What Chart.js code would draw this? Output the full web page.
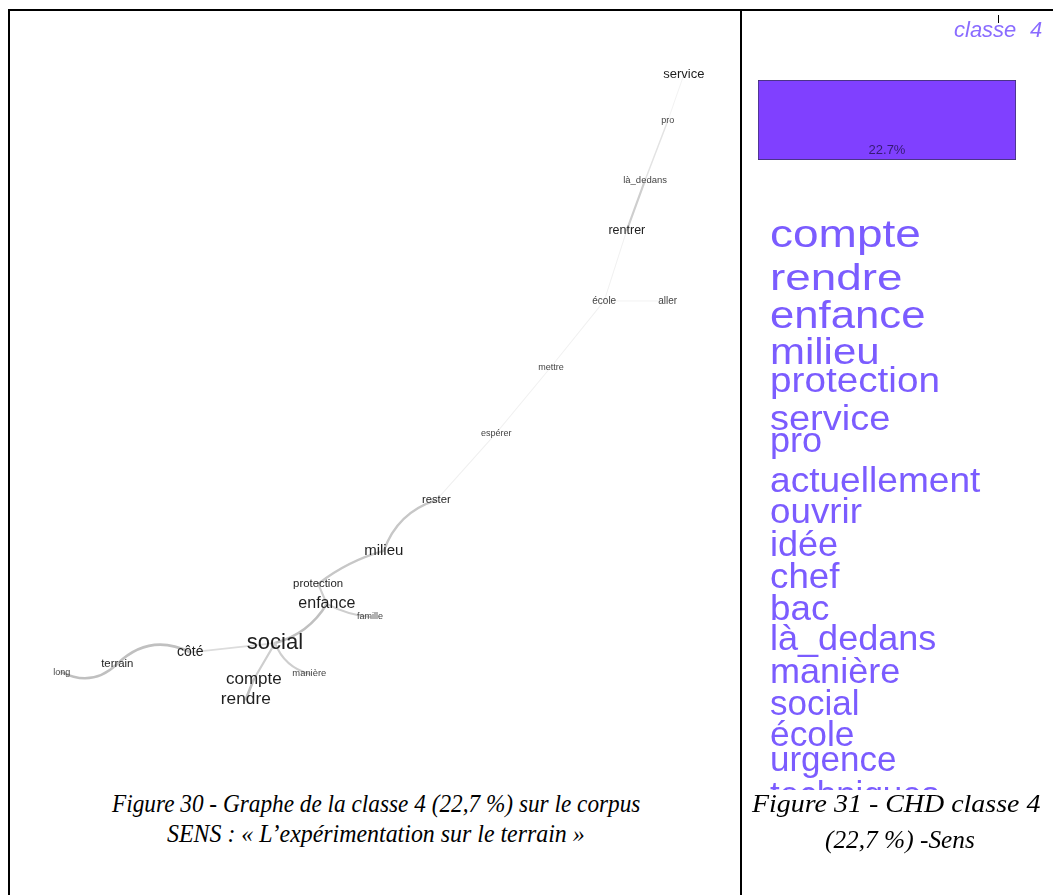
<!DOCTYPE html>
<html><head><meta charset="utf-8">
<script src="https://cdn.jsdelivr.net/npm/chart.js@4"></script>
<style>
html,body{margin:0;padding:0;background:#fff;}
body{width:1053px;height:895px;overflow:hidden;position:relative;}
.ln{position:absolute;background:#000;}
#g{position:absolute;left:10px;top:11px;}
#c{position:absolute;left:742px;top:11px;}
.cap{position:absolute;font-family:"Liberation Serif","Times New Roman",serif;font-style:italic;font-size:26px;white-space:nowrap;line-height:1;color:#000;transform-origin:0 0;}
</style></head>
<body>
<div class="ln" style="left:8px;top:9px;width:1045px;height:2px"></div>
<div class="ln" style="left:8px;top:9px;width:2px;height:886px"></div>
<div class="ln" style="left:740px;top:9px;width:2px;height:886px"></div>
<canvas id="g" width="730" height="769"></canvas>
<canvas id="c" width="311" height="779"></canvas>
<span class="cap" data-cx="376" data-w="528" data-b="813">Figure 30 - Graphe de la classe 4 (22,7 %) sur le corpus</span>
<span class="cap" data-cx="376" data-w="418" data-b="843">SENS : « L’expérimentation sur le terrain »</span>
<span class="cap" data-cx="896" data-w="288" data-b="813">Figure 31 - CHD classe 4</span>
<span class="cap" data-cx="900" data-w="150" data-b="849">(22,7 %) -Sens</span>
<script>
// ---- Graph of class 4 (similarity tree) ----
const nodeWords = ['service','pro','là_dedans','rentrer','école','aller','mettre','espérer','rester','milieu','protection','enfance','famille','social','côté','terrain','long','compte','manière','rendre'];
const nodeX = [92.3, 90.1, 87.0, 84.5, 81.4, 90.1, 74.1, 66.6, 58.4, 51.2, 42.2, 43.4, 49.3, 36.3, 24.7, 14.7, 7.1, 33.4, 41.0, 32.3];
const nodeY = [91.7, 85.7, 78.0, 71.5, 62.3, 62.3, 53.7, 45.1, 36.4, 29.8, 25.5, 22.9, 21.2, 17.8, 16.6, 15.1, 14.0, 13.1, 13.8, 10.5];
const nodeFreq = [13, 9, 9.5, 12.5, 10, 10, 9, 9, 11.3, 15, 11.4, 16, 9, 22, 14, 11.4, 9, 17, 9.4, 17.3];
const edgeFrom = ['long','terrain','côté','social','enfance','protection','milieu','rester','espérer','mettre','école','école','rentrer','là_dedans','pro','enfance','social','compte','social'];
const edgeTo   = ['terrain','côté','social','enfance','protection','milieu','rester','espérer','mettre','école','rentrer','aller','là_dedans','pro','service','famille','compte','rendre','manière'];
const edgeWeight = [4, 4, 2, 4, 3, 3.5, 3.5, 0.6, 0.5, 0.5, 0.5, 0.4, 3, 1.5, 0.4, 3, 3, 4, 3];
const edgeBend = [0.35, -0.35, 0, 0.2, 0, -0.1, -0.25, 0, 0, 0, 0, 0, 0, 0, 0, 0.1, 0, 0, 0.25];

// ---- CHD class 4 ----
const classLabel = 'classe 4';
const classPercent = [22.7];
const classWords = ['compte','rendre','enfance','milieu','protection','service','pro','actuellement','ouvrir','idée','chef','bac','là_dedans','manière','social','école','urgence','techniques'];
const classWordSize = [39, 37, 38, 36.5, 35.5, 35.5, 35, 35, 35, 35, 35, 35, 35, 35, 35, 35, 35, 35];
const classWordStretch = [1.18, 1.24, 1.15, 1.15, 1.09, 1.07, 1.03, 1.06, 1.05, 1.03, 1.05, 1.05, 1.03, 1.03, 1.0, 1.01, 1.0, 1.0];
const classWordBase = [247, 290, 328, 364, 392, 430, 452, 492, 523, 556, 588, 620, 650, 683, 715, 746, 771, 806];

const SANS = '"Liberation Sans", Arial, Helvetica, sans-serif';

const graphPlugin = {
  id: 'graph',
  beforeDatasetsDraw(chart) {
    const ctx = chart.ctx, xs = chart.scales.x, ys = chart.scales.y;
    ctx.save();
    ctx.lineCap = 'round';
    for (let i = 0; i < edgeFrom.length; i++) {
      const a = nodeWords.indexOf(edgeFrom[i]), b = nodeWords.indexOf(edgeTo[i]);
      const x1 = xs.getPixelForValue(nodeX[a]), y1 = ys.getPixelForValue(nodeY[a]);
      const x2 = xs.getPixelForValue(nodeX[b]), y2 = ys.getPixelForValue(nodeY[b]);
      const dx = x2 - x1, dy = y2 - y1;
      const cx = (x1 + x2) / 2 - dy * edgeBend[i], cy = (y1 + y2) / 2 + dx * edgeBend[i];
      const w = edgeWeight[i];
      const g = Math.round(248 - w * 14);
      ctx.strokeStyle = `rgb(${g},${g},${g})`;
      ctx.lineWidth = 0.8 + w * 0.45;
      ctx.beginPath();
      ctx.moveTo(x1, y1);
      ctx.quadraticCurveTo(cx, cy, x2, y2);
      ctx.stroke();
    }
    ctx.restore();
  },
  afterDatasetsDraw(chart) {
    const ctx = chart.ctx, xs = chart.scales.x, ys = chart.scales.y;
    ctx.save();
    ctx.textAlign = 'center';
    ctx.textBaseline = 'middle';
    for (let i = 0; i < nodeWords.length; i++) {
      const s = nodeFreq[i];
      ctx.font = s + 'px ' + SANS;
      ctx.fillStyle = s < 10.5 ? '#444' : '#1e1e1e';
      ctx.fillText(nodeWords[i], xs.getPixelForValue(nodeX[i]), ys.getPixelForValue(nodeY[i]));
    }
    ctx.restore();
  }
};

new Chart(document.getElementById('g'), {
  type: 'scatter',
  data: { datasets: [{ data: nodeWords.map((w, i) => ({ x: nodeX[i], y: nodeY[i] })), pointRadius: 0 }] },
  options: {
    responsive: false, animation: false,
    layout: { padding: 0 },
    plugins: { legend: { display: false }, tooltip: { enabled: false } },
    scales: { x: { type: 'linear', min: 0, max: 100, display: false }, y: { type: 'linear', min: 0, max: 100, display: false } }
  },
  plugins: [graphPlugin]
});

const chdPlugin = {
  id: 'chd',
  afterDraw(chart) {
    const ctx = chart.ctx;
    ctx.save();
    // class title
    ctx.font = 'italic 22px ' + SANS;
    ctx.fillStyle = '#8a6cff';
    ctx.textBaseline = 'alphabetic';
    ctx.textAlign = 'left';
    ctx.fillText('classe', 212, 26);
    ctx.fillText('4', 288, 26);
    ctx.strokeStyle = '#000';
    ctx.lineWidth = 1;
    ctx.beginPath(); ctx.moveTo(256.5, 4); ctx.lineTo(256.5, 12); ctx.stroke();
    // percent label in bar
    const bar = chart.getDatasetMeta(0).data[0];
    ctx.font = '13px ' + SANS;
    ctx.fillStyle = 'rgba(40,20,90,0.85)';
    ctx.textAlign = 'center';
    ctx.fillText(classPercent[0].toFixed(1) + '%', bar.x, bar.base - 6);
    // words
    ctx.fillStyle = '#7b5cff';
    ctx.textAlign = 'left';
    for (let i = 0; i < classWords.length; i++) {
      ctx.save();
      ctx.translate(28, classWordBase[i] - 11);
      ctx.scale(classWordStretch[i], 1);
      ctx.font = classWordSize[i] + 'px ' + SANS;
      ctx.fillText(classWords[i], 0, 0);
      ctx.restore();
    }
    ctx.restore();
  }
};

new Chart(document.getElementById('c'), {
  type: 'bar',
  data: { labels: [classLabel], datasets: [{ data: classPercent, backgroundColor: '#8040ff', borderColor: '#3a3060', borderWidth: 1, borderSkipped: false, barPercentage: 1, categoryPercentage: 1 }] },
  options: {
    responsive: false, animation: false,
    layout: { padding: { left: 16, right: 37, top: 69, bottom: 630 } },
    plugins: { legend: { display: false }, tooltip: { enabled: false } },
    scales: { x: { display: false }, y: { display: false, min: 0, max: classPercent[0] } }
  },
  plugins: [chdPlugin]
});

// captions: fit to measured widths
document.querySelectorAll('.cap').forEach(el => {
  const w = +el.dataset.w, cx = +el.dataset.cx, b = +el.dataset.b;
  const mw = el.offsetWidth;
  el.style.left = (cx - w / 2) + 'px';
  el.style.top = (b - 22) + 'px';
  el.style.transform = 'scaleX(' + (w / mw) + ')';
});
</script>
</body></html>
